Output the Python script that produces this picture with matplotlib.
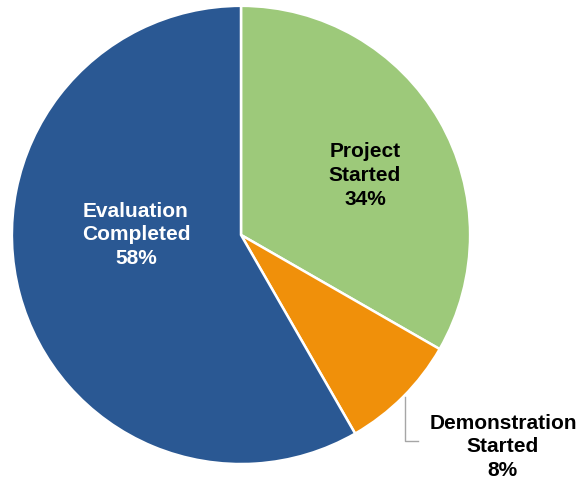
import matplotlib.pyplot as plt

labels = ['Project\nStarted', 'Demonstration\nStarted', 'Evaluation\nCompleted']
values = [33.3, 8.4, 58.3]
pct_labels = ['34%', '8%', '58%']
colors = ['#9DC97A', '#F0900A', '#2A5893']

plt.rcParams['font.family'] = ['Liberation Sans', 'DejaVu Sans']

fig = plt.figure(figsize=(5.88, 4.81), dpi=100)
ax = fig.add_axes([0, 0, 1, 1])
ax.pie(values, colors=colors, startangle=90, counterclock=False,
       radius=1.005, wedgeprops={'edgecolor': 'white', 'linewidth': 1.8})
ax.set_xlim(-1.057, 1.522)
ax.set_ylim(-1.075, 1.035)
ax.set_aspect('equal')
ax.axis('off')

# labels
ax.text(0.544, 0.265, f'{labels[0]}\n{pct_labels[0]}', ha='center', va='center',
        fontsize=15, fontweight='bold', color='black', linespacing=1.32)
ax.text(-0.461, 0.005, f'{labels[2]}\n{pct_labels[2]}', ha='center', va='center',
        fontsize=15, fontweight='bold', color='white', linespacing=1.32)
ax.text(1.149, -0.925, f'{labels[1]}\n{pct_labels[1]}', ha='center', va='center',
        fontsize=15, fontweight='bold', color='black', linespacing=1.32)
ax.plot([0.719, 0.719, 0.776], [-0.711, -0.904, -0.904], color='#A6A6A6', lw=1)

fig.savefig('out.png', dpi=100)
